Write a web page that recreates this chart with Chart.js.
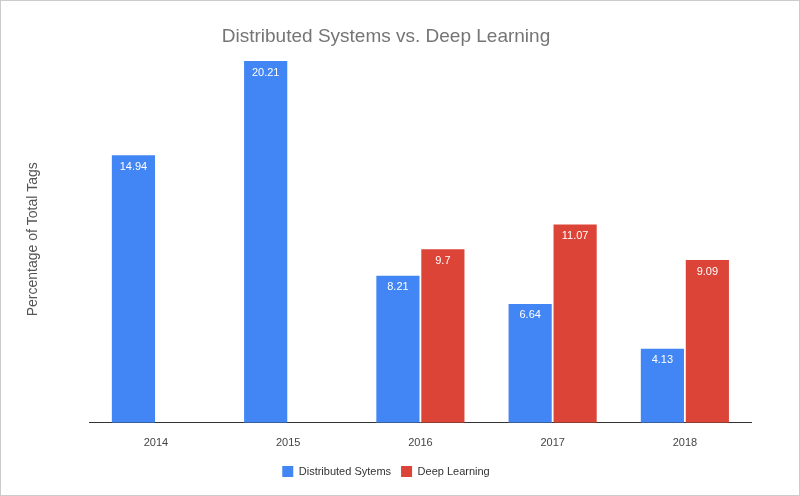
<!DOCTYPE html>
<html><head><meta charset="utf-8">
<script src="https://cdn.jsdelivr.net/npm/chart.js@4"></script>
<style>html,body{margin:0;padding:0;background:#fff}#w{width:798px;height:494px;border:1px solid #ccc}</style>
</head><body><div id="w"><canvas id="c"></canvas></div>
<script>
const categories = ["2014","2015","2016","2017","2018"];
const distributed = [14.94, 20.21, 8.21, 6.64, 4.13];
const deepLearning = [null, null, 9.7, 11.07, 9.09];
const labelPlugin = {
  id:'lbl',
  afterDatasetsDraw(chart){
    const ctx=chart.ctx;
    ctx.save();ctx.fillStyle='#fff';ctx.font='11px Arial, "Liberation Sans"';ctx.textAlign='center';ctx.textBaseline='top';
    chart.data.datasets.forEach((ds,i)=>{
      chart.getDatasetMeta(i).data.forEach((b,j)=>{
        if(ds.data[j]==null)return;
        ctx.fillText(String(ds.data[j]),b.x,b.y+6);
      });
    });
    ctx.restore();
  }
};
new Chart(document.getElementById('c'),{
  type:'bar',
  data:{labels:categories,datasets:[
    {label:'Distributed Sytems',data:distributed,backgroundColor:'#4285f4',categoryPercentage:0.68,barPercentage:0.96},
    {label:'Deep Learning',data:deepLearning,backgroundColor:'#db4437',categoryPercentage:0.68,barPercentage:0.96}
  ]},
  options:{
    responsive:true,maintainAspectRatio:false,animation:false,
    layout:{padding:{left:20,right:48,top:24,bottom:8}},
    plugins:{
      title:{display:true,text:'Distributed Systems vs. Deep Learning',color:'#757575',font:{family:'Arial, "Liberation Sans"',size:19,weight:'normal'},padding:{top:0,bottom:8}},
      legend:{position:'bottom',labels:{boxWidth:11,boxHeight:11,color:'#333',font:{family:'Arial, "Liberation Sans"',size:11},padding:10}},
      tooltip:{enabled:false}
    },
    scales:{
      x:{grid:{display:false},border:{color:'#333'},ticks:{color:'#444',padding:6,font:{family:'Arial, "Liberation Sans"',size:11}}},
      y:{min:0,max:20.5,grid:{display:false},border:{display:false},ticks:{display:false},
         title:{display:true,text:'Percentage of Total Tags',color:'#555',font:{family:'Arial, "Liberation Sans"',size:14},padding:{bottom:40}}}
    }
  },
  plugins:[labelPlugin]
});
</script></body></html>
